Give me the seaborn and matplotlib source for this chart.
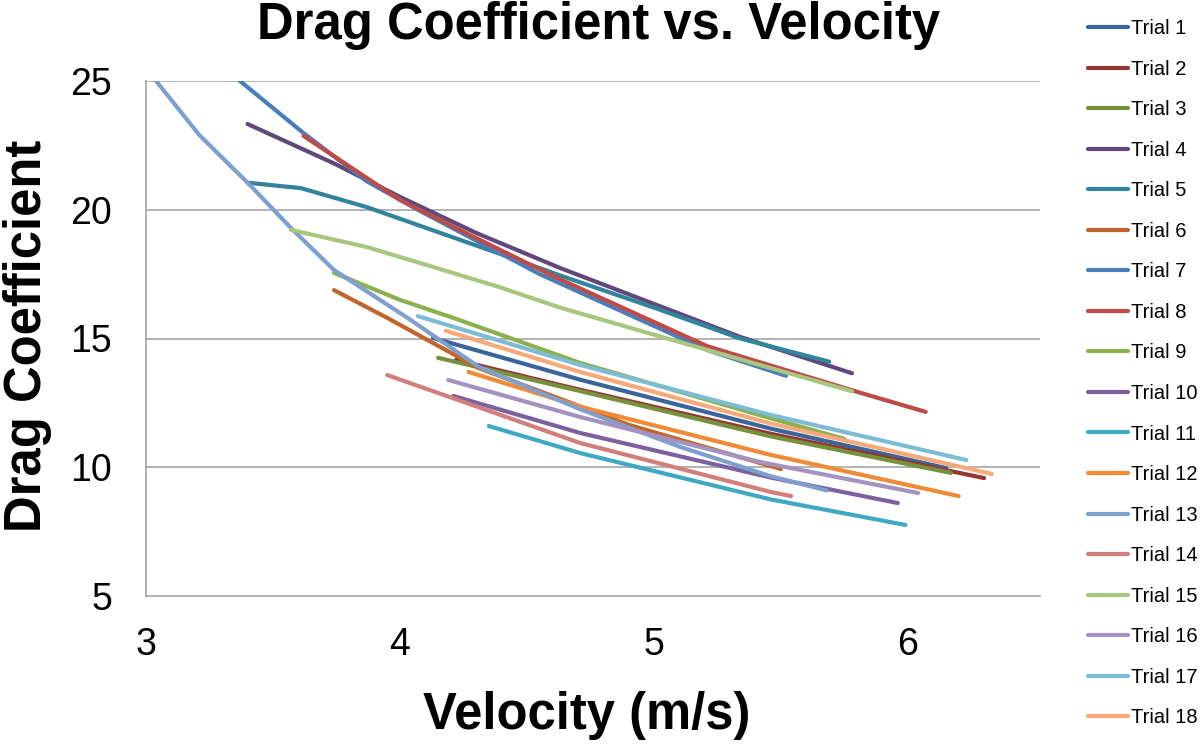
import matplotlib
matplotlib.use("Agg")
import matplotlib.pyplot as plt
import seaborn as sns
import pandas as pd

# ---- data ----
trials = [f"Trial {i}" for i in range(1, 19)]

t1_x = [4.13, 4.71, 5.46, 6.15];              t1_y = [15.02, 13.4, 11.5, 9.97]
t2_x = [4.22, 4.67, 5.46, 6.30];              t2_y = [14.17, 13.1, 11.3, 9.58]
t3_x = [4.15, 4.67, 5.46, 6.17];              t3_y = [14.25, 13.05, 11.2, 9.78]
t4_x = [3.40, 3.74, 4.00, 4.30, 4.63, 5.34, 5.78]
t4_y = [23.33, 21.8, 20.5, 19.1, 17.74, 15.06, 13.65]
t5_x = [3.40, 3.61, 3.87, 4.13, 4.39, 4.63, 5.00, 5.34, 5.69]
t5_y = [21.05, 20.84, 20.1, 19.2, 18.3, 17.45, 16.2, 15.0, 14.1]
t6_x = [3.74, 3.95, 4.31, 4.90, 5.50];        t6_y = [16.88, 15.8, 13.85, 11.65, 9.93]
t7_x = [3.37, 3.62, 3.87, 4.07, 4.55, 5.21, 5.52]
t7_y = [25.0, 22.98, 21.1, 20.0, 17.5, 14.55, 13.55]
t8_x = [3.62, 4.00, 4.30, 4.63, 5.21, 5.81, 6.07]
t8_y = [22.87, 20.38, 18.9, 17.3, 14.7, 12.9, 12.15]
t9_x = [3.74, 4.00, 4.21, 4.71, 5.46, 5.75];  t9_y = [17.55, 16.5, 15.8, 14.05, 11.9, 11.1]
t10_x = [4.21, 4.71, 5.46, 5.96];             t10_y = [12.77, 11.33, 9.6, 8.61]
t11_x = [4.35, 4.71, 5.46, 5.99];             t11_y = [11.6, 10.55, 8.75, 7.76]
t12_x = [4.27, 4.71, 5.46, 6.20];             t12_y = [13.7, 12.35, 10.48, 8.88]
t13_x = [3.04, 3.21, 3.40, 3.57, 3.74, 4.03, 4.31, 4.71, 5.10, 5.46, 5.68]
t13_y = [25.0, 22.9, 21.05, 19.3, 17.66, 15.8, 13.9, 12.25, 10.8, 9.65, 9.1]
t14_x = [3.95, 4.71, 5.46, 5.54];             t14_y = [13.58, 10.94, 9.04, 8.88]
t15_x = [3.57, 3.87, 4.13, 4.39, 4.63, 5.07, 5.78]
t15_y = [19.22, 18.55, 17.78, 17.0, 16.2, 14.95, 12.95]
t16_x = [4.19, 4.71, 5.42, 6.04];             t16_y = [13.39, 11.95, 10.2, 9.0]
t17_x = [4.07, 4.71, 5.46, 6.23];             t17_y = [15.87, 13.97, 12.03, 10.28]
t18_x = [4.18, 4.71, 5.46, 6.33];             t18_y = [15.3, 13.7, 11.7, 9.74]

xs = [t1_x, t2_x, t3_x, t4_x, t5_x, t6_x, t7_x, t8_x, t9_x, t10_x, t11_x, t12_x,
      t13_x, t14_x, t15_x, t16_x, t17_x, t18_x]
ys = [t1_y, t2_y, t3_y, t4_y, t5_y, t6_y, t7_y, t8_y, t9_y, t10_y, t11_y, t12_y,
      t13_y, t14_y, t15_y, t16_y, t17_y, t18_y]

colors = ["#3A649A", "#943634", "#76923C", "#5F497A", "#31849B", "#C0662A",
          "#4A7EBB", "#BE4B48", "#8DB04E", "#7D60A0", "#3FA8C2", "#F08A36",
          "#7F9FCF", "#D27F7C", "#A8C67E", "#A493C0", "#7CBCD5", "#F6A97A"]

x_ticks = [3, 4, 5, 6]
y_ticks = [5, 10, 15, 20, 25]

rows = []
for name, xv, yv in zip(trials, xs, ys):
    for i, (a, b) in enumerate(zip(xv, yv)):
        rows.append({"trial": name, "v": a, "cd": b, "i": i})
df = pd.DataFrame(rows)

sns.set_theme(style="white")
plt.rcParams["font.family"] = ["Liberation Sans", "DejaVu Sans"]
plt.rcParams["text.color"] = "black"
plt.rcParams["xtick.color"] = "black"
plt.rcParams["ytick.color"] = "black"

fig = plt.figure(figsize=(12, 7.45), dpi=100)
ax = fig.add_axes([146 / 1200, 1 - 596 / 745, (1040 - 146) / 1200, (596 - 81) / 745])

grid_c = "#A6A6A6"
for yt in y_ticks[1:]:
    ax.axhline(yt, color=grid_c, lw=1.2, zorder=0)

sns.lineplot(data=df, x="v", y="cd", hue="trial", hue_order=trials,
             palette=dict(zip(trials, colors)), sort=False, estimator=None,
             units="trial", linewidth=3.0, ax=ax, legend=True)
for ln in ax.get_lines():
    ln.set_solid_capstyle("round")
    ln.set_solid_joinstyle("round")

ax.set_xlim(3, 6.52)
ax.set_ylim(5, 25)
ax.set_xticks(x_ticks)
ax.set_yticks(y_ticks)
ax.set_xticklabels([str(t) for t in x_ticks], fontsize=27)
ax.set_yticklabels([str(t) for t in y_ticks], fontsize=27)
ax.tick_params(axis="both", which="both", direction="out", length=9.5, width=1.2,
               color=grid_c, labelcolor="black")
ax.tick_params(axis="x", pad=13)
ax.tick_params(axis="y", pad=15)
for s in ["top", "right"]:
    ax.spines[s].set_visible(False)
for s in ["left", "bottom"]:
    ax.spines[s].set_color(grid_c)
    ax.spines[s].set_linewidth(1.2)

ax.set_xlabel("")
ax.set_ylabel("")
fig.text(587 / 1200, 1 - 716 / 745, "Velocity (m/s)", fontsize=36.5, fontweight="bold",
         ha="center", va="center", color="black")
fig.text(28 / 1200, 1 - 336 / 745, "Drag Coefficient", fontsize=36.5, fontweight="bold",
         ha="center", va="center", rotation=90, color="black")
fig.text(599 / 1200, 1 - 26 / 745, "Drag Coefficient vs. Velocity", fontsize=36.5,
         fontweight="bold", ha="center", va="center", color="black")

handles, labels = ax.get_legend_handles_labels()
ax.get_legend().remove()
leg = fig.legend(handles, labels, loc="upper left",
                 bbox_to_anchor=(1080 / 1200, 1 - 11 / 745), frameon=False,
                 fontsize=14.5, handlelength=2.0, handletextpad=0.15,
                 labelspacing=1.07, borderaxespad=0)
for line in leg.get_lines():
    line.set_linewidth(3)
for t in leg.get_texts():
    t.set_color("black")

fig.savefig("out.png", dpi=100)
